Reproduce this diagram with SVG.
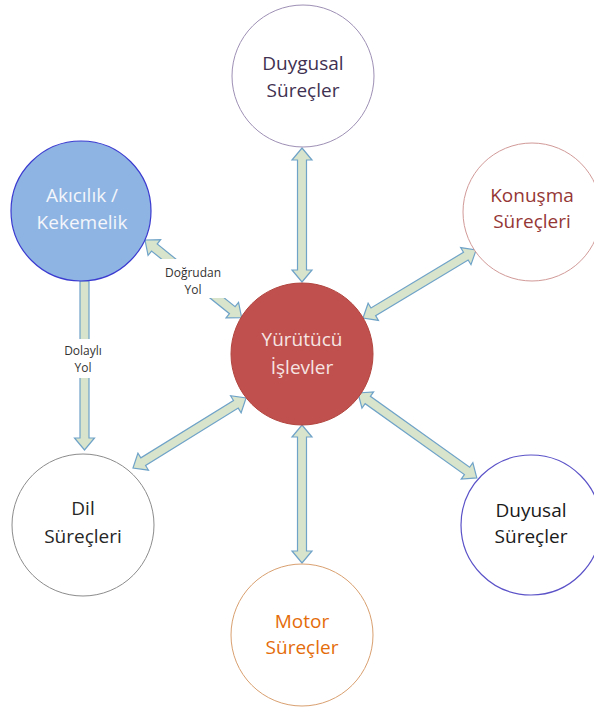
<svg xmlns="http://www.w3.org/2000/svg" width="594" height="709" viewBox="0 0 594 709">
<style>
.lbl{font-family:"Open Sans","Noto Sans",sans-serif;font-size:19px;text-anchor:middle}
.sm{font-family:"Open Sans","Noto Sans",sans-serif;font-size:12px;text-anchor:middle;fill:#333}
.arr{fill:#D8E4CC;stroke:#6FA3C8;stroke-width:1.2;stroke-linejoin:miter}
</style>
<rect width="594" height="709" fill="#fff"/>
<g id="connectors">
  <path class="arr" transform="translate(302,148) rotate(90)" d="M0,0 L12,-10 L12,-4.5 L122,-4.5 L122,-10 L134,0 L122,10 L122,4.5 L12,4.5 L12,10 Z"/>
  <path class="arr" transform="translate(302,425) rotate(90)" d="M0,0 L12,-10 L12,-4.5 L126,-4.5 L126,-10 L138,0 L126,10 L126,4.5 L12,4.5 L12,10 Z"/>
  <path class="arr" transform="translate(363,318) rotate(-31.03)" d="M0,0 L12,-10 L12,-4.5 L120,-4.5 L120,-10 L132,0 L120,10 L120,4.5 L12,4.5 L12,10 Z"/>
  <path class="arr" transform="translate(133,468) rotate(-31.78)" d="M0,0 L12,-10 L12,-4.5 L121,-4.5 L121,-10 L133,0 L121,10 L121,4.5 L12,4.5 L12,10 Z"/>
  <path class="arr" transform="translate(358,393) rotate(35.54)" d="M0,0 L12,-10 L12,-4.5 L134,-4.5 L134,-10 L146,0 L134,10 L134,4.5 L12,4.5 L12,10 Z"/>
  <path class="arr" transform="translate(145,240) rotate(38.8)" d="M0,0 L12,-10 L12,-4.5 L112,-4.5 L112,-10 L124,0 L112,10 L112,4.5 L12,4.5 L12,10 Z"/>
  <path class="arr" transform="translate(84.5,281) rotate(90)" d="M0,-4.5 L157,-4.5 L157,-10 L169,0 L157,10 L157,4.5 L0,4.5 Z"/>
  <rect x="160" y="259" width="66" height="39" fill="#fff"/>
  <text class="sm" x="193" y="277">Doğrudan</text>
  <text class="sm" x="193" y="294">Yol</text>
  <rect x="60" y="339" width="48" height="39" fill="#fff"/>
  <text class="sm" x="83" y="355">Dolaylı</text>
  <text class="sm" x="83" y="372">Yol</text>
</g>
<g id="duygusal">
  <circle cx="303" cy="76" r="71" fill="#fff" stroke="#9E90B5" stroke-width="1"/>
  <text class="lbl" x="303" y="70" fill="#3F3151">Duygusal</text>
  <text class="lbl" x="303" y="97" fill="#3F3151">Süreçler</text>
</g>
<g id="konusma">
  <circle cx="532" cy="212" r="69" fill="#fff" stroke="#D19A98" stroke-width="1"/>
  <text class="lbl" x="532" y="202" fill="#953735">Konuşma</text>
  <text class="lbl" x="532" y="228" fill="#953735">Süreçleri</text>
</g>
<g id="akicilik">
  <circle cx="81" cy="211" r="70" fill="#8EB4E3" stroke="#3B3BD0" stroke-width="1.2"/>
  <text class="lbl" x="82" y="202" fill="#F4F6FB">Akıcılık /</text>
  <text class="lbl" x="82" y="229" fill="#F4F6FB">Kekemelik</text>
</g>
<g id="yurutucu">
  <circle cx="302" cy="354" r="71" fill="#C0504D" stroke="#B2453F" stroke-width="1"/>
  <text class="lbl" x="302" y="346" fill="#F6E4E3">Yürütücü</text>
  <text class="lbl" x="302" y="374" fill="#F6E4E3">İşlevler</text>
</g>
<g id="dil">
  <circle cx="83" cy="525" r="71" fill="#fff" stroke="#8C8C8C" stroke-width="1"/>
  <text class="lbl" x="83" y="515" fill="#262626">Dil</text>
  <text class="lbl" x="83" y="543" fill="#262626">Süreçleri</text>
</g>
<g id="duyusal">
  <circle cx="531" cy="525" r="70" fill="#fff" stroke="#5B52C8" stroke-width="1.2"/>
  <text class="lbl" x="531" y="517" fill="#1A1A1A">Duyusal</text>
  <text class="lbl" x="531" y="543" fill="#1A1A1A">Süreçler</text>
</g>
<g id="motor">
  <circle cx="302" cy="635" r="71" fill="#fff" stroke="#D9A070" stroke-width="1"/>
  <text class="lbl" x="302" y="628" fill="#E46C0A">Motor</text>
  <text class="lbl" x="302" y="654" fill="#E46C0A">Süreçler</text>
</g>
</svg>
